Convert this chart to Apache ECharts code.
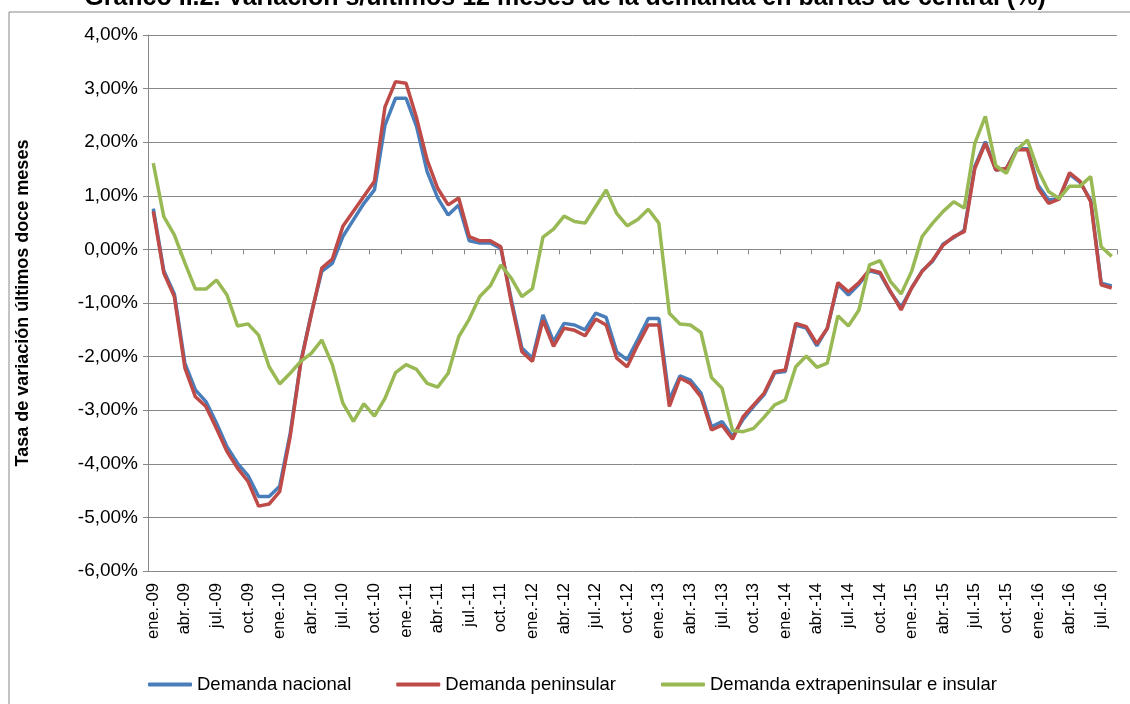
<!DOCTYPE html>
<html>
<head>
<meta charset="utf-8">
<script src="https://cdn.jsdelivr.net/npm/echarts@6/dist/echarts.min.js"></script>
<style>
  html, body { margin: 0; padding: 0; background: #fff; }
  #chart { width: 1130px; height: 704px; }
</style>
</head>
<body>
<div id="chart"></div>
<script>
// Categorías: meses de ene.-09 a ago.-16
const meses = ['ene.', 'feb.', 'mar.', 'abr.', 'may.', 'jun.', 'jul.', 'ago.', 'sep.', 'oct.', 'nov.', 'dic.'];
const anios = ['09', '10', '11', '12', '13', '14', '15', '16'];
const categorias = [];
anios.forEach((a, k) => {
  const n = k === anios.length - 1 ? 8 : 12;
  for (let m = 0; m < n; m++) categorias.push(meses[m] + '-' + a);
});

// Tasa de variación (%)
const demandaNacional = [
  0.76, -0.40, -0.83, -2.12, -2.62, -2.84, -3.24, -3.68, -3.99, -4.22, -4.61, -4.61,
  -4.42, -3.43, -2.10, -1.20, -0.41, -0.26, 0.24, 0.55, 0.86, 1.11, 2.32, 2.82,
  2.82, 2.29, 1.45, 0.96, 0.64, 0.83, 0.16, 0.12, 0.12, 0.02, -0.94, -1.84,
  -2.03, -1.22, -1.72, -1.38, -1.41, -1.50, -1.19, -1.27, -1.91, -2.06, -1.68, -1.29,
  -1.29, -2.81, -2.36, -2.44, -2.68, -3.31, -3.21, -3.49, -3.17, -2.93, -2.71, -2.30,
  -2.28, -1.41, -1.47, -1.80, -1.47, -0.65, -0.85, -0.65, -0.40, -0.45, -0.80, -1.08,
  -0.72, -0.40, -0.22, 0.10, 0.22, 0.36, 1.55, 2.01, 1.48, 1.51, 1.88, 1.88,
  1.20, 0.92, 0.95, 1.40, 1.25, 0.92, -0.63, -0.68
];
const demandaPeninsular = [
  0.71, -0.44, -0.88, -2.21, -2.75, -2.93, -3.34, -3.77, -4.08, -4.33, -4.79, -4.75,
  -4.52, -3.49, -2.12, -1.22, -0.35, -0.18, 0.43, 0.71, 0.99, 1.27, 2.66, 3.13,
  3.10, 2.45, 1.67, 1.14, 0.83, 0.96, 0.24, 0.16, 0.16, 0.05, -1.00, -1.91,
  -2.09, -1.32, -1.81, -1.47, -1.51, -1.61, -1.30, -1.41, -2.03, -2.19, -1.78, -1.41,
  -1.41, -2.93, -2.40, -2.50, -2.75, -3.37, -3.28, -3.54, -3.12, -2.90, -2.68, -2.28,
  -2.25, -1.38, -1.44, -1.76, -1.47, -0.62, -0.79, -0.62, -0.38, -0.43, -0.79, -1.13,
  -0.72, -0.41, -0.20, 0.08, 0.24, 0.33, 1.51, 1.98, 1.48, 1.51, 1.86, 1.86,
  1.14, 0.86, 0.94, 1.43, 1.27, 0.89, -0.66, -0.72
];
const demandaExtrapeninsular = [
  1.61, 0.61, 0.27, -0.25, -0.74, -0.74, -0.57, -0.85, -1.43, -1.39, -1.60, -2.19,
  -2.51, -2.31, -2.09, -1.94, -1.69, -2.15, -2.87, -3.21, -2.88, -3.11, -2.78, -2.30,
  -2.15, -2.24, -2.50, -2.57, -2.31, -1.63, -1.30, -0.88, -0.68, -0.29, -0.54, -0.88,
  -0.73, 0.23, 0.38, 0.62, 0.52, 0.49, 0.80, 1.11, 0.67, 0.44, 0.56, 0.75,
  0.49, -1.19, -1.39, -1.41, -1.55, -2.39, -2.59, -3.38, -3.40, -3.34, -3.13, -2.90,
  -2.81, -2.19, -1.99, -2.20, -2.12, -1.24, -1.43, -1.13, -0.29, -0.21, -0.60, -0.83,
  -0.41, 0.24, 0.49, 0.71, 0.89, 0.77, 1.98, 2.48, 1.56, 1.42, 1.86, 2.04,
  1.48, 1.08, 0.95, 1.18, 1.18, 1.36, 0.05, -0.13
];

const nombres = ['Demanda nacional', 'Demanda peninsular', 'Demanda extrapeninsular e insular'];
const colores = ['#4A7EBB', '#BE4B48', '#98B954'];

const fuente = 'Arial, "Liberation Sans", sans-serif';
const gris = '#888888';

var chartDom = document.getElementById('chart');
var myChart = echarts.init(chartDom);

const option = {
  animation: false,
  backgroundColor: '#ffffff',
  color: colores,
  title: {
    text: 'Gráfico II.2. Variación s/últimos 12 meses de la demanda en barras de central (%)',
    left: 'center',
    top: -19,
    textStyle: { fontFamily: fuente, fontSize: 25, fontWeight: 'bold', color: '#000' },
  },
  graphic: [
    {
      type: 'rect',
      shape: { x: 9, y: 12, width: 1140, height: 720 },
      style: { fill: null, stroke: gris, lineWidth: 1 },
      silent: true,
    },
  ],
  grid: { left: 148, right: 13, top: 35, bottom: 133, containLabel: false },
  legend: {
    left: 143,
    top: 670,
    itemWidth: 44,
    itemHeight: 4,
    itemGap: 45,
    icon: 'roundRect',
    textStyle: { fontFamily: fuente, fontSize: 18.5, color: '#000' },
    data: nombres,
  },
  xAxis: [
    {
      type: 'category',
      data: categorias,
      position: 'bottom',
      axisLine: { show: false, onZero: false },
      axisTick: { show: false },
      axisLabel: {
        interval: 2,
        rotate: 90,
        margin: 12,
        color: '#000',
        fontFamily: fuente,
        fontSize: 16.5,
      },
    },
    {
      type: 'category',
      data: categorias,
      position: 'bottom',
      axisLine: { show: true, onZero: true, lineStyle: { color: gris, width: 1 } },
      axisTick: { show: true, interval: 2, length: 5, lineStyle: { color: gris } },
      axisLabel: { show: false },
    },
  ],
  yAxis: {
    type: 'value',
    min: -6,
    max: 4,
    interval: 1,
    name: 'Tasa de variación últimos doce meses',
    nameLocation: 'middle',
    nameGap: 116,
    nameTextStyle: { fontFamily: fuente, fontSize: 18, fontWeight: 'bold', color: '#000' },
    axisLine: { show: true, lineStyle: { color: gris } },
    axisTick: { show: true, length: 5, lineStyle: { color: gris } },
    axisLabel: {
      color: '#000',
      fontFamily: fuente,
      fontSize: 19,
      margin: 10,
      formatter: (v) => v.toFixed(2).replace('.', ',') + '%',
    },
    splitLine: { show: true, lineStyle: { color: gris, width: 1 } },
  },
  series: [
    { name: nombres[0], data: demandaNacional },
    { name: nombres[1], data: demandaPeninsular },
    { name: nombres[2], data: demandaExtrapeninsular },
  ].map((s, k) => ({
    name: s.name,
    type: 'line',
    xAxisIndex: 0,
    data: s.data,
    showSymbol: false,
    symbol: 'none',
    lineStyle: { color: colores[k], width: 3.5 },
    itemStyle: { color: colores[k] },
  })),
};

myChart.setOption(option);
</script>
</body>
</html>
